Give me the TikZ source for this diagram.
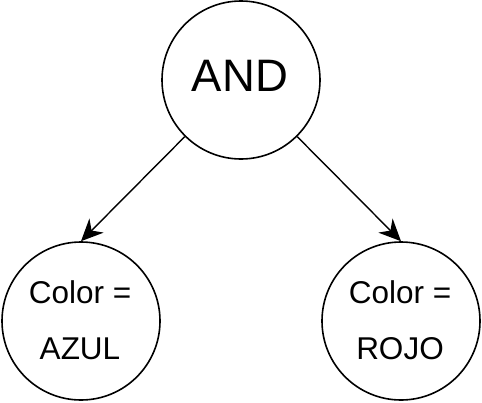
\documentclass[tikz,border=0pt]{standalone}
\usepackage{fontspec}
\setmainfont{Liberation Sans}
\usetikzlibrary{arrows.meta}
\begin{document}
\begin{tikzpicture}[x=1pt,y=1pt,
  ring/.style={circle,draw,line width=1.6pt,minimum size=158pt,inner sep=0pt},
  arr/.style={line width=1.4pt,-{Stealth[length=22pt,width=20pt,inset=7pt]}},
  big/.style={anchor=base,inner sep=0pt,font=\fontsize{45.5}{50}\selectfont},
  small/.style={anchor=base,inner sep=0pt,font=\fontsize{31.5}{36}\selectfont}]
\useasboundingbox (0,0) rectangle (482,-402);
\node[ring] (and) at (241,-80) {};
\node[ring] (l) at (81,-321) {};
\node[ring] (r) at (401,-321) {};
\node[big] (andt) at (240,-91) {AND};
\node[small] (lc) at (80,-303) {Color =};
\node[small] (lv) at (80,-359) {AZUL};
\node[small] (rc) at (400,-303) {Color =};
\node[small] (rv) at (400,-359) {ROJO};
\draw[arr] (and) -- (l.north);
\draw[arr] (and) -- (r.north);
\end{tikzpicture}
\end{document}
